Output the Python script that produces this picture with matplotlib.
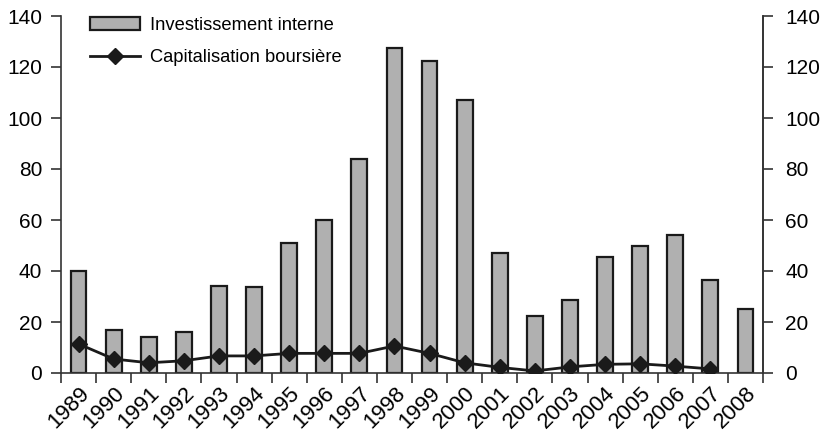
import matplotlib
matplotlib.use("Agg")
import matplotlib.pyplot as plt
import matplotlib.transforms as mtransforms
import numpy as np

years = [str(y) for y in range(1989, 2009)]
investissement = [40, 17, 14, 16, 34, 33.8, 51, 60, 84, 127.5, 122.5, 107, 47, 22.5, 28.5, 45.5, 50, 54, 36.5, 25]
capitalisation = [11.4, 5.5, 4.0, 4.8, 6.7, 6.7, 7.7, 7.7, 7.7, 10.6, 7.7, 4.0, 2.2, 0.8, 2.4, 3.4, 3.6, 2.7, 1.6, np.nan]

plt.rcParams['font.family'] = ['Liberation Sans', 'DejaVu Sans']

fig = plt.figure(figsize=(8.25, 4.34), dpi=100)
ax = fig.add_axes([61/825, 1 - 373/434, (763 - 61)/825, (373 - 16)/434])
x = np.arange(len(years))
bars = ax.bar(x, investissement, width=0.45, color='#b0b0b0', edgecolor='#1a1a1a', linewidth=1.6,
              label='Investissement interne', zorder=2)
line, = ax.plot(x, capitalisation, color='#1a1a1a', linewidth=2, marker='D', markersize=8,
                label='Capitalisation boursière', zorder=3)

ax.set_xlim(-0.5, len(years) - 0.5)
ax.set_ylim(0, 140)
ax.set_yticks(range(0, 141, 20))
ax.tick_params(axis='y', labelsize=15, length=7, width=1.2, color='#333333', pad=6.5)
ax.set_xticks(np.arange(-0.5, len(years), 1.0))
ax.set_xticklabels([])
ax.set_xticks(x, minor=True)
ax.set_xticklabels(years, minor=True, rotation=45, ha='right', va='top',
                   rotation_mode='anchor', fontsize=16)
offset = mtransforms.ScaledTranslation(14/100, 0, fig.dpi_scale_trans)
for lbl in ax.xaxis.get_minorticklabels():
    lbl.set_transform(lbl.get_transform() + offset)
ax.tick_params(axis='x', which='major', length=7, width=1.2, color='#333333')
ax.tick_params(axis='x', which='minor', length=0, pad=7)
for s in ['left', 'bottom', 'right']:
    ax.spines[s].set_color('#333333')
    ax.spines[s].set_linewidth(1.2)
ax.spines['top'].set_visible(False)

ax2 = ax.twinx()
ax2.set_ylim(0, 140)
ax2.set_yticks(range(0, 141, 20))
ax2.tick_params(axis='y', labelsize=15, length=7, width=1.2, color='#333333', pad=9)
for s in ['left', 'bottom', 'top']:
    ax2.spines[s].set_visible(False)
ax2.spines['right'].set_color('#333333')
ax2.spines['right'].set_linewidth(1.2)

leg = ax.legend(handles=[bars, line], loc='upper left', bbox_to_anchor=(0.031, 1.018),
                frameon=False, fontsize=13.2, handlelength=2.7, labelspacing=0.85,
                handletextpad=0.55, borderaxespad=0.0)

fig.savefig('out.png', dpi=100)
